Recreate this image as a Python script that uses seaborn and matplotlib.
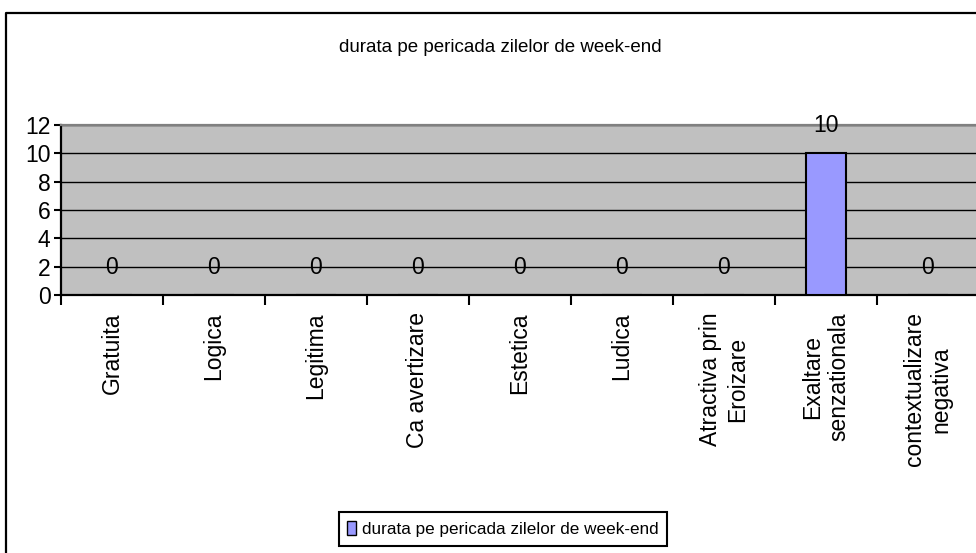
import matplotlib
matplotlib.use("Agg")
import matplotlib.pyplot as plt
import seaborn as sns
import pandas as pd
from matplotlib.lines import Line2D
from matplotlib.patches import Patch

# Chart data
categories = [
    "Gratuita", "Logica", "Legitima", "Ca avertizare", "Estetica", "Ludica",
    "Atractiva prin\nEroizare", "Exaltare\nsenzationala", "contextualizare\nnegativa",
]
values = [0, 0, 0, 0, 0, 0, 0, 10, 0]
series_name = "durata pe pericada zilelor de week-end"
title_text = "durata pe pericada zilelor de week-end"
y_ticks = [0, 2, 4, 6, 8, 10, 12]

sns.set_theme(style="white")
plt.rcParams["font.family"] = ["Liberation Sans", "DejaVu Sans"]
plt.rcParams["text.color"] = "black"
plt.rcParams["xtick.color"] = "black"
plt.rcParams["ytick.color"] = "black"
plt.rcParams["xtick.labelcolor"] = "black"
plt.rcParams["ytick.labelcolor"] = "black"

W, H = 976, 553
fig = plt.figure(figsize=(W / 100, H / 100), dpi=100)
fig.patch.set_facecolor("white")

# plot area in pixel coordinates (runs past the right edge of the canvas)
left, right, top, bottom = 61, 979, 125, 295
ax = fig.add_axes([left / W, 1 - bottom / H, (right - left) / W, (bottom - top) / H])

df = pd.DataFrame({"cat": categories, "val": values})
sns.barplot(data=df, x="cat", y="val", ax=ax, color="#9999ff", width=0.4,
            edgecolor="black", linewidth=1.5, saturation=1, zorder=3)

ax.set_facecolor("#c0c0c0")
ax.set_xlim(-0.5, len(categories) - 0.5)
ax.set_ylim(0, 12)
ax.set_yticks(y_ticks)
ax.set_xlabel("")
ax.set_ylabel("")
ax.yaxis.grid(True, color="black", lw=1)
ax.xaxis.grid(False)
ax.set_axisbelow(True)

# category labels at centres, tick marks at category boundaries
ax.set_xticks(range(len(categories)))
ax.set_xticklabels(categories, rotation=90, ha="center", va="top",
                   multialignment="center", fontsize=16.5, color="black")
ax.set_xticks([i - 0.5 for i in range(len(categories) + 1)], minor=True)
ax.tick_params(axis="x", which="major", length=0, pad=12.5)
ax.tick_params(axis="x", which="minor", direction="out", length=7, width=1.5,
               color="black", bottom=True)
ax.tick_params(axis="y", direction="out", length=5, width=1.5, color="black",
               labelsize=16.5, pad=2.5, left=True, labelcolor="black")

for s in ["left", "bottom"]:
    ax.spines[s].set_color("black")
    ax.spines[s].set_linewidth(1.6)
ax.spines["top"].set_color("#808080")
ax.spines["top"].set_linewidth(1.6)
ax.spines["right"].set_visible(False)

# value labels above each bar
for i, v in enumerate(values):
    ax.annotate(f"{v:g}", (i, v), xytext=(0, 20), textcoords="offset points",
                ha="center", va="center", fontsize=16.5, color="black", zorder=5)

fig.text(500 / W, 1 - 52 / H, title_text, ha="center", va="baseline",
         fontsize=13.5, color="black")

leg = fig.legend(handles=[Patch(facecolor="#9999ff", edgecolor="black", linewidth=1)],
                 labels=[series_name], loc="center",
                 bbox_to_anchor=(503 / W, 1 - 529 / H), frameon=True, fancybox=False,
                 edgecolor="black", framealpha=1, fontsize=12.3, handlelength=0.5,
                 handleheight=0.9, handletextpad=0.35, borderpad=0.5,
                 borderaxespad=0)
leg.get_frame().set_linewidth(1.5)
for t in leg.get_texts():
    t.set_color("black")

# outer chart border
fig.add_artist(Line2D([6 / W, 6 / W, 1.01], [-0.01, 1 - 13 / H, 1 - 13 / H],
                      transform=fig.transFigure, color="black", lw=1.6))

fig.savefig("out.png", dpi=100)
